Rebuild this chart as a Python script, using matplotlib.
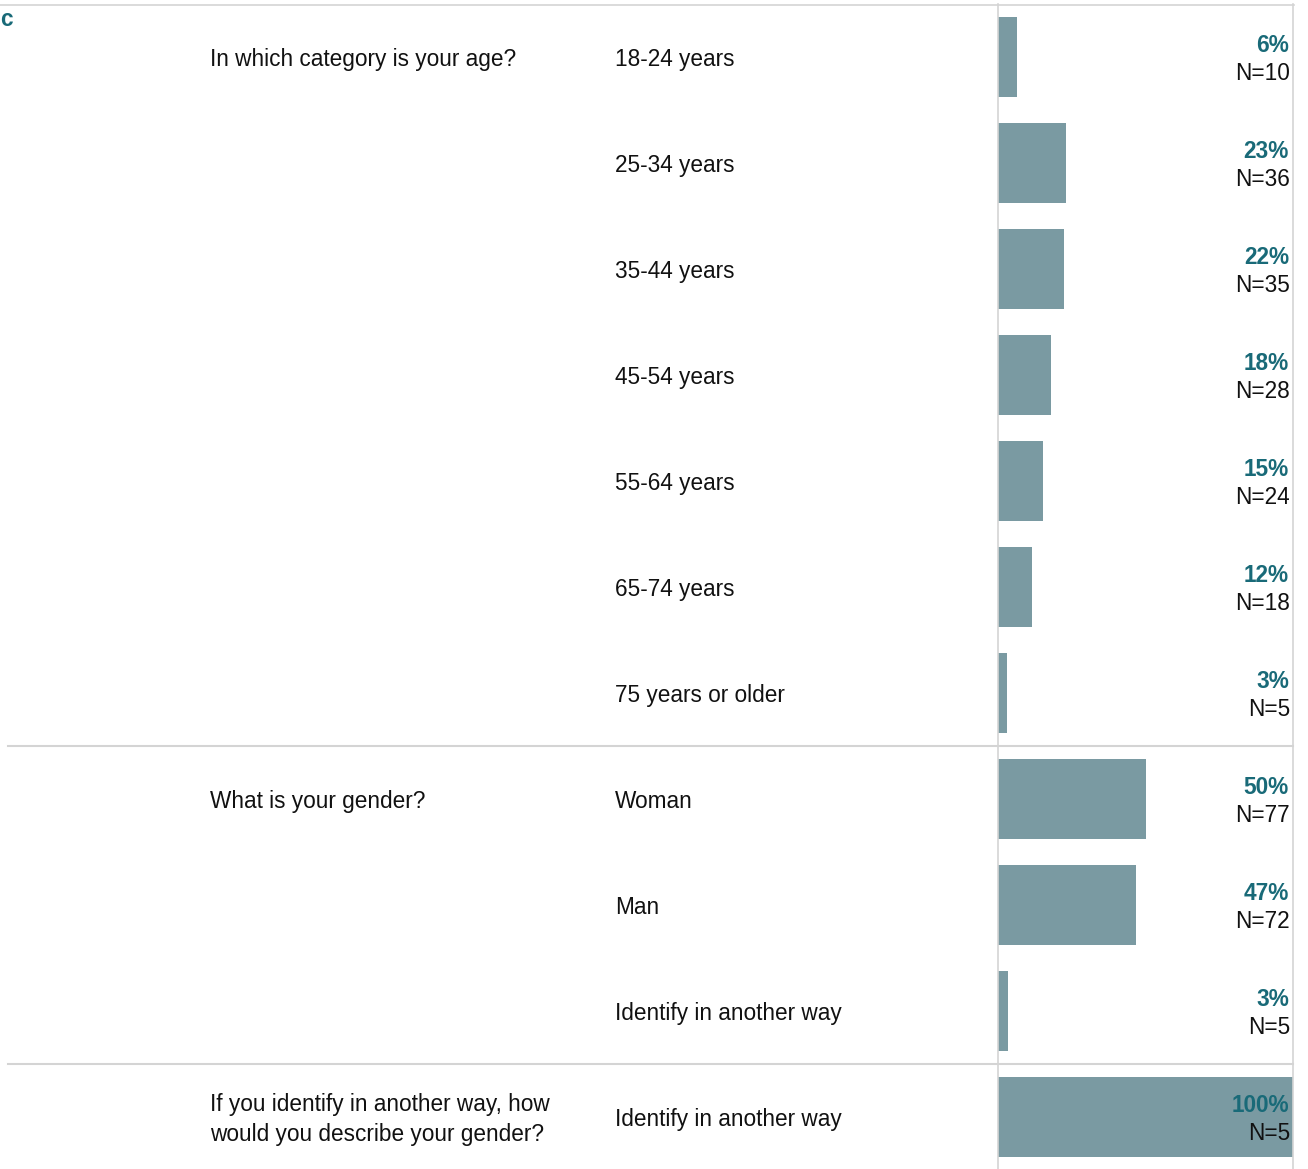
import matplotlib
matplotlib.use("Agg")
import matplotlib.pyplot as plt
from matplotlib.transforms import blended_transform_factory

plt.rcParams['font.family'] = ['Liberation Sans', 'DejaVu Sans']

# data
questions = ["In which category is your age?",
             "What is your gender?",
             "If you identify in another way, how\nwould you describe your gender?"]
answers = [
    ["18-24 years", "25-34 years", "35-44 years", "45-54 years",
     "55-64 years", "65-74 years", "75 years or older"],
    ["Woman", "Man", "Identify in another way"],
    ["Identify in another way"],
]
pcts = [[6, 23, 22, 18, 15, 12, 3], [50, 47, 3], [100]]
counts = [[10, 36, 35, 28, 24, 18, 5], [77, 72, 5], [5]]

W, H = 1308, 1169
bar_color = "#7a9aa2"
teal = "#196a78"
grid = "#d4d4d4"
fs = 16.3

fig = plt.figure(figsize=(W / 100, H / 100), dpi=100)
ax = fig.add_axes([998 / W, -1 / H, 295 / W, 1166 / H])

n_rows = sum(len(a) for a in answers)
ax.set_xlim(0, 1)
ax.set_ylim(n_rows - 0.5, -0.5)
ax.set_xticks([])
ax.set_yticks([])
for s in ["top", "bottom"]:
    ax.spines[s].set_visible(False)
for s in ["left", "right"]:
    ax.spines[s].set_color(grid)
    ax.spines[s].set_linewidth(1.2)

tr = blended_transform_factory(fig.transFigure, ax.transData)
dy = 0.02  # small nudge down for text

row = 0
for qi, q in enumerate(questions):
    ax.text(210 / W, row + dy, q, transform=tr, fontsize=fs, va="center",
            ha="left", linespacing=1.38, color="#111111")
    total = sum(counts[qi])
    for a, p, n in zip(answers[qi], pcts[qi], counts[qi]):
        ax.barh(row, n / total, height=0.755, left=0, color=bar_color)
        ax.text(615 / W, row + dy, a, transform=tr, fontsize=fs, va="center",
                ha="left", color="#111111")
        ax.text(1289 / W, row - 0.132 + dy, f"{p}%", transform=tr, fontsize=fs,
                va="center", ha="right", color=teal, fontweight="bold")
        ax.text(1290 / W, row + 0.132 + dy, f"N={n}", transform=tr, fontsize=fs,
                va="center", ha="right", color="#111111")
        row += 1
    if qi < len(questions) - 1:
        ax.plot([8 / W, 1293 / W], [row - 0.5, row - 0.5], transform=tr,
                color=grid, lw=1.5, clip_on=False)

# top rule
fig.add_artist(plt.Line2D([0, 1294 / W], [1 - 4.5 / H, 1 - 4.5 / H],
                          color=grid, lw=1.2))
fig.text(0, 1 - 20 / H, "c", fontsize=fs, fontweight="bold", color=teal,
         va="center", ha="left")

fig.savefig("out.png", dpi=100)
